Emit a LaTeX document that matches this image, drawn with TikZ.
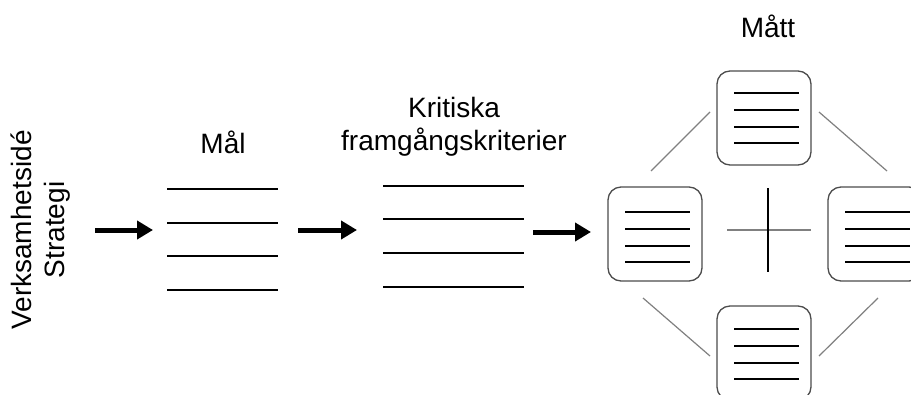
\documentclass[tikz,border=0pt]{standalone}
\usepackage{fontspec}
\setmainfont{Liberation Sans}
\usetikzlibrary{arrows.meta}
\begin{document}
\begin{tikzpicture}[x=1pt,y=-1pt,
  lbl/.style={inner sep=0pt, font=\fontsize{28}{33}\selectfont},
  rule/.style={line width=2pt, black},
  flow/.style={line width=5pt, -{Triangle[length=16pt,width=18pt]}},
  card/.style={draw=black!70, line width=1.3pt, rounded corners=13pt,
               minimum width=94pt, minimum height=94pt, inner sep=0pt},
  link/.style={draw=black!50, line width=1.2pt},
]
\clip (0,0) rectangle (911,394);
\fill[white] (0,0) rectangle (911,394);

% left label, rotated
\node[lbl, rotate=90, align=center] (vision) at (41,230) {Verksamhetsidé\\Strategi};

% Mål
\node[lbl, anchor=base] (goalhd) at (223,153) {Mål};
\foreach \y in {189,223,256,290} \draw[rule] (167,\y) -- (278,\y);

% Kritiska framgångskriterier
\node[lbl, anchor=base, align=center] (csfhd) at (454,150) {Kritiska\\framgångskriterier};
\foreach \y in {186,219,253,287} \draw[rule] (383,\y) -- (524,\y);

% flow arrows
\coordinate (a1s) at (95,230);  \coordinate (a1e) at (153,230);
\coordinate (a2s) at (298,230); \coordinate (a2e) at (357,230);
\coordinate (a3s) at (533,232); \coordinate (a3e) at (591,232);
\draw[flow] (a1s) -- (a1e);
\draw[flow] (a2s) -- (a2e);
\draw[flow] (a3s) -- (a3e);

% Mått
\node[lbl, anchor=base] (meashd) at (768,37) {Mått};
\node[card] (mtop)   at (764,118) {};
\node[card] (mleft)  at (655,234) {};
\node[card] (mright) at (875,234) {};
\node[card] (mbot)   at (764,353) {};

\foreach \n/\dy in {mtop/0, mleft/3, mright/3, mbot/1}
  \foreach \o in {-25,-8.5,8.5,25}
    \draw[rule] ([xshift=-30pt,yshift={-(\o+\dy)*1pt}]\n.center) -- ([xshift=35pt,yshift={-(\o+\dy)*1pt}]\n.center);

% connecting diagonals
\draw[link] (651,171) -- (710,112);
\draw[link] (819,112) -- (887,171);
\draw[link] (643,298) -- (710,356);
\draw[link] (878,298) -- (819,356);

% centre cross
\draw[draw=black!50, line width=2pt] (727,230) -- (811,230);
\draw[black, line width=1.5pt] (768,188) -- (768,272);
\end{tikzpicture}
\end{document}
